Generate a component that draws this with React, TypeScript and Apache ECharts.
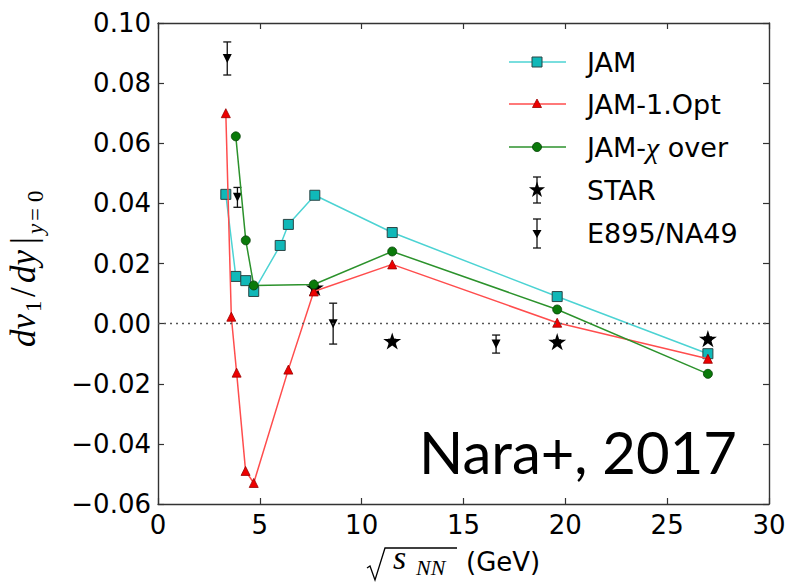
import React, { useEffect, useRef } from "react";
import * as echarts from "echarts";

// ---- data ----
const jamX = [3.33, 3.82, 4.31, 4.7, 6.0, 6.4, 7.7, 11.5, 19.6, 27];
const jamY = [0.043, 0.0157, 0.0143, 0.0107, 0.026, 0.033, 0.0427, 0.0303, 0.009, -0.01];

const optX = [3.33, 3.6, 3.86, 4.3, 4.7, 6.4, 7.65, 11.5, 19.6, 27];
const optY = [0.07, 0.0023, -0.0163, -0.049, -0.053, -0.0153, 0.0107, 0.0197, 0.0003, -0.0117];

const chiX = [3.82, 4.31, 4.7, 7.65, 11.5, 19.6, 27];
const chiY = [0.0623, 0.0277, 0.0127, 0.013, 0.024, 0.0047, -0.0167];

const starX = [7.7, 11.5, 19.6, 27];
const starY = [0.012, -0.0058, -0.006, -0.005];
const starErr = [0.0006, 0.0006, 0.0006, 0.0006];

const e895X = [3.4, 3.9, 8.6, 16.6];
const e895Y = [0.0882, 0.042, 0.0, -0.0068];
const e895Err = [0.0055, 0.0033, 0.0068, 0.003];

const xTicks = { min: 0, max: 30, interval: 5 };
const yTicks = { min: -0.06, max: 0.1, interval: 0.02 };

const legendNames = ["JAM", "JAM-1.Opt", "JAM-{c|χ} over", "STAR", "E895/NA49"];

const STAR_PATH =
  "path://M0,-10 L2.23,-3.07 L9.51,-3.09 L3.61,1.17 L5.88,8.09 L0,3.8 L-5.88,8.09 L-3.61,1.17 L-9.51,-3.09 L-2.23,-3.07 Z";

const CYAN_LINE = "#4cd3d3";
const CYAN_FILL = "#10b8b8";
const RED_LINE = "#ff4d4d";
const RED_FILL = "#ee0000";
const GREEN_LINE = "#2c922c";
const GREEN_FILL = "#0a7a0a";
const AXIS = "#333";

function starPoints(cx: number, cy: number, R: number, r: number) {
  const pts: number[][] = [];
  for (let i = 0; i < 10; i++) {
    const a = -Math.PI / 2 + (i * Math.PI) / 5;
    const rad = i % 2 === 0 ? R : r;
    pts.push([cx + rad * Math.cos(a), cy + rad * Math.sin(a)]);
  }
  return pts;
}

function errBarRender(params: any, api: any) {
  const x = api.value(0);
  const y = api.value(1);
  const e = api.value(2);
  const top = api.coord([x, y + e]);
  const bot = api.coord([x, y - e]);
  const cap = 4;
  const st = { stroke: "#111", lineWidth: 1.3 };
  return {
    type: "group",
    children: [
      { type: "line", shape: { x1: top[0], y1: top[1], x2: bot[0], y2: bot[1] }, style: st },
      { type: "line", shape: { x1: top[0] - cap, y1: top[1], x2: top[0] + cap, y2: top[1] }, style: st },
      { type: "line", shape: { x1: bot[0] - cap, y1: bot[1], x2: bot[0] + cap, y2: bot[1] }, style: st },
    ],
  };
}

function buildLegend() {
  const lx1 = 509, lx2 = 566, cx = 537, tx = 587;
  const rows = [62, 104, 147, 190, 233];
  const textStyle = (t: string, y: number) => ({
    type: "text",
    x: tx,
    y: y,
    style: {
      text: t,
      fontFamily: "DejaVu Sans",
      fontSize: 27,
      fill: "#000",
      verticalAlign: "middle",
      align: "left",
      rich: { c: { fontFamily: "Liberation Serif", fontStyle: "italic", fontSize: 30 } },
    },
  });
  const lineEl = (y: number, color: string) => ({
    type: "line",
    shape: { x1: lx1, y1: y, x2: lx2, y2: y },
    style: { stroke: color, lineWidth: 1.5 },
  });
  const bar = (y1: number, y2: number) => [
    { type: "line", shape: { x1: cx, y1, x2: cx, y2 }, style: { stroke: "#111", lineWidth: 1.3 } },
    { type: "line", shape: { x1: cx - 4, y1, x2: cx + 4, y2: y1 }, style: { stroke: "#111", lineWidth: 1.3 } },
    { type: "line", shape: { x1: cx - 4, y1: y2, x2: cx + 4, y2 }, style: { stroke: "#111", lineWidth: 1.3 } },
  ];
  const els: any[] = [];
  // JAM
  els.push(lineEl(rows[0], CYAN_LINE));
  els.push({ type: "rect", shape: { x: cx - 5, y: rows[0] - 5, width: 10, height: 10 }, style: { fill: CYAN_FILL, stroke: "#2a4545", lineWidth: 1 } });
  els.push(textStyle(legendNames[0], rows[0]));
  // JAM-1.Opt
  els.push(lineEl(rows[1], RED_LINE));
  els.push({ type: "polygon", shape: { points: [[cx, rows[1] - 5], [cx + 4.5, rows[1] + 3.5], [cx - 4.5, rows[1] + 3.5]] }, style: { fill: RED_FILL, stroke: "#900", lineWidth: 0.8 } });
  els.push(textStyle(legendNames[1], rows[1]));
  // JAM-chi
  els.push(lineEl(rows[2], GREEN_LINE));
  els.push({ type: "circle", shape: { cx, cy: rows[2], r: 4.5 }, style: { fill: GREEN_FILL, stroke: "#064006", lineWidth: 0.8 } });
  els.push(textStyle(legendNames[2], rows[2]));
  // STAR
  els.push(...bar(rows[3] - 13, rows[3] + 13));
  els.push({ type: "polygon", shape: { points: starPoints(cx, rows[3], 8.5, 3.3) }, style: { fill: "#000" } });
  els.push(textStyle(legendNames[3], rows[3]));
  // E895
  els.push(...bar(rows[4] - 14, rows[4] + 15));
  els.push({ type: "polygon", shape: { points: [[cx - 4.5, rows[4] - 3], [cx + 4.5, rows[4] - 3], [cx, rows[4] + 5]] }, style: { fill: "#000" } });
  els.push(textStyle(legendNames[4], rows[4]));
  return els;
}

function buildAxisNames() {
  const els: any[] = [];
  // x-axis name: sqrt(s_NN) (GeV)
  els.push({
    type: "polyline",
    shape: { points: [[367, 568], [370, 566], [375, 580], [385, 548], [457, 548]] },
    style: { stroke: "#000", lineWidth: 1.3, fill: null },
  });
  els.push({ type: "text", x: 393, y: 557, style: { text: "s", fontFamily: "Liberation Serif", fontStyle: "italic", fontSize: 34, fill: "#000", verticalAlign: "middle" } });
  els.push({ type: "text", x: 416, y: 567, style: { text: "NN", fontFamily: "Liberation Serif", fontStyle: "italic", fontSize: 22, fill: "#000", verticalAlign: "middle" } });
  els.push({ type: "text", x: 466, y: 562, style: { text: "(GeV)", fontFamily: "DejaVu Sans", fontSize: 26, fill: "#000", verticalAlign: "middle" } });

  // y-axis name: dv1/dy|_{y=0}, rotated
  const tok = (t: string, x: number, base: number, fs: number, italic: boolean) => ({
    type: "text",
    x,
    y: base - 0.34 * fs,
    style: {
      text: t,
      fontFamily: "Liberation Serif",
      fontStyle: italic ? "italic" : "normal",
      fontSize: fs,
      fill: "#000",
      verticalAlign: "middle",
      align: "left",
    },
  });
  els.push({
    type: "group",
    x: 35,
    y: 347,
    rotation: Math.PI / 2,
    children: [
      tok("dv", 0, 0, 35, true),
      tok("1", 35, 6, 23, false),
      tok("/", 50, 0, 35, false),
      tok("dy", 64, 0, 35, true),
      tok("|", 103, 0, 35, false),
      tok("y", 113, 8, 23, true),
      tok("=", 126, 8, 23, false),
      tok("0", 145, 8, 23, false),
    ],
  });
  // annotation
  els.push({
    type: "text",
    x: 419,
    y: 474 - 0.38 * 58,
    style: { text: "Nara+, 2017", fontFamily: "Lato", fontSize: 58, fill: "#000", verticalAlign: "middle", align: "left" },
  });
  return els;
}

export default function App() {
  const ref = useRef<HTMLDivElement>(null);
  useEffect(() => {
    document.body.style.margin = "0";
    const chart = echarts.init(ref.current!, null, { renderer: "svg" });
    const axisLine = { show: true, onZero: false, lineStyle: { color: AXIS, width: 1.4 } };
    const tick = { show: true, inside: true, length: 6, lineStyle: { color: AXIS, width: 1.2 } };
    const fmtY = (v: number) => {
      const s = Math.abs(v) < 1e-9 ? "0.00" : v.toFixed(2);
      return s.replace("-", "\u2212");
    };
    const option: any = {
      animation: false,
      backgroundColor: "#fff",
      grid: { left: 158, right: 32, top: 23, bottom: 79, containLabel: false },
      xAxis: [
        {
          type: "value", ...xTicks, position: "bottom",
          axisLine, axisTick: tick, splitLine: { show: false },
          axisLabel: { fontFamily: "DejaVu Sans", fontSize: 26, color: "#000", margin: 8 },
        },
        {
          type: "value", ...xTicks, position: "top",
          axisLine, axisTick: tick, splitLine: { show: false }, axisLabel: { show: false },
        },
      ],
      yAxis: [
        {
          type: "value", ...yTicks, position: "left",
          axisLine, axisTick: tick, splitLine: { show: false },
          axisLabel: { fontFamily: "DejaVu Sans", fontSize: 26, color: "#000", margin: 7, formatter: fmtY },
        },
        {
          type: "value", ...yTicks, position: "right",
          axisLine, axisTick: tick, splitLine: { show: false }, axisLabel: { show: false },
        },
      ],
      series: [
        {
          type: "custom",
          name: "E895/NA49 err",
          renderItem: errBarRender,
          data: e895X.map((x, i) => [x, e895Y[i], e895Err[i]]),
          encode: { x: 0, y: 1 },
          z: 2,
          silent: true,
          markLine: {
            silent: true,
            symbol: "none",
            label: { show: false },
            lineStyle: { color: "#555", type: [2, 4], width: 1.3 },
            data: [{ yAxis: 0 }],
          },
        },
        {
          type: "custom",
          name: "STAR err",
          renderItem: errBarRender,
          data: starX.map((x, i) => [x, starY[i], starErr[i]]),
          encode: { x: 0, y: 1 },
          z: 2,
          silent: true,
        },
        {
          type: "scatter",
          name: "STAR",
          data: starX.map((x, i) => [x, starY[i]]),
          symbol: STAR_PATH,
          symbolKeepAspect: true,
          symbolSize: 18,
          itemStyle: { color: "#000", opacity: 1 },
          z: 2,
        },
        {
          type: "scatter",
          name: "E895/NA49",
          data: e895X.map((x, i) => [x, e895Y[i]]),
          symbol: "triangle",
          symbolRotate: 180,
          symbolSize: 9,
          itemStyle: { color: "#000", opacity: 1 },
          z: 2,
        },
        {
          type: "line",
          name: "JAM",
          data: jamX.map((x, i) => [x, jamY[i]]),
          symbol: "rect",
          symbolSize: 10,
          showSymbol: true,
          lineStyle: { color: CYAN_LINE, width: 1.5 },
          itemStyle: { color: CYAN_FILL, borderColor: "#2a4545", borderWidth: 1 },
          z: 3,
        },
        {
          type: "line",
          name: "JAM-1.Opt",
          data: optX.map((x, i) => [x, optY[i]]),
          symbol: "triangle",
          symbolSize: 9,
          showSymbol: true,
          lineStyle: { color: RED_LINE, width: 1.5 },
          itemStyle: { color: RED_FILL, borderColor: "#900", borderWidth: 0.8 },
          z: 4,
        },
        {
          type: "line",
          name: "JAM-chi over",
          data: chiX.map((x, i) => [x, chiY[i]]),
          symbol: "circle",
          symbolSize: 9,
          showSymbol: true,
          lineStyle: { color: GREEN_LINE, width: 1.5 },
          itemStyle: { color: GREEN_FILL, borderColor: "#064006", borderWidth: 0.8 },
          z: 5,
        },
      ],
      graphic: [...buildLegend(), ...buildAxisNames()],
    };
    chart.setOption(option);
    return () => chart.dispose();
  }, []);
  return <div ref={ref} style={{ position: "fixed", left: 0, top: 0, width: 801, height: 583 }} />;
}
